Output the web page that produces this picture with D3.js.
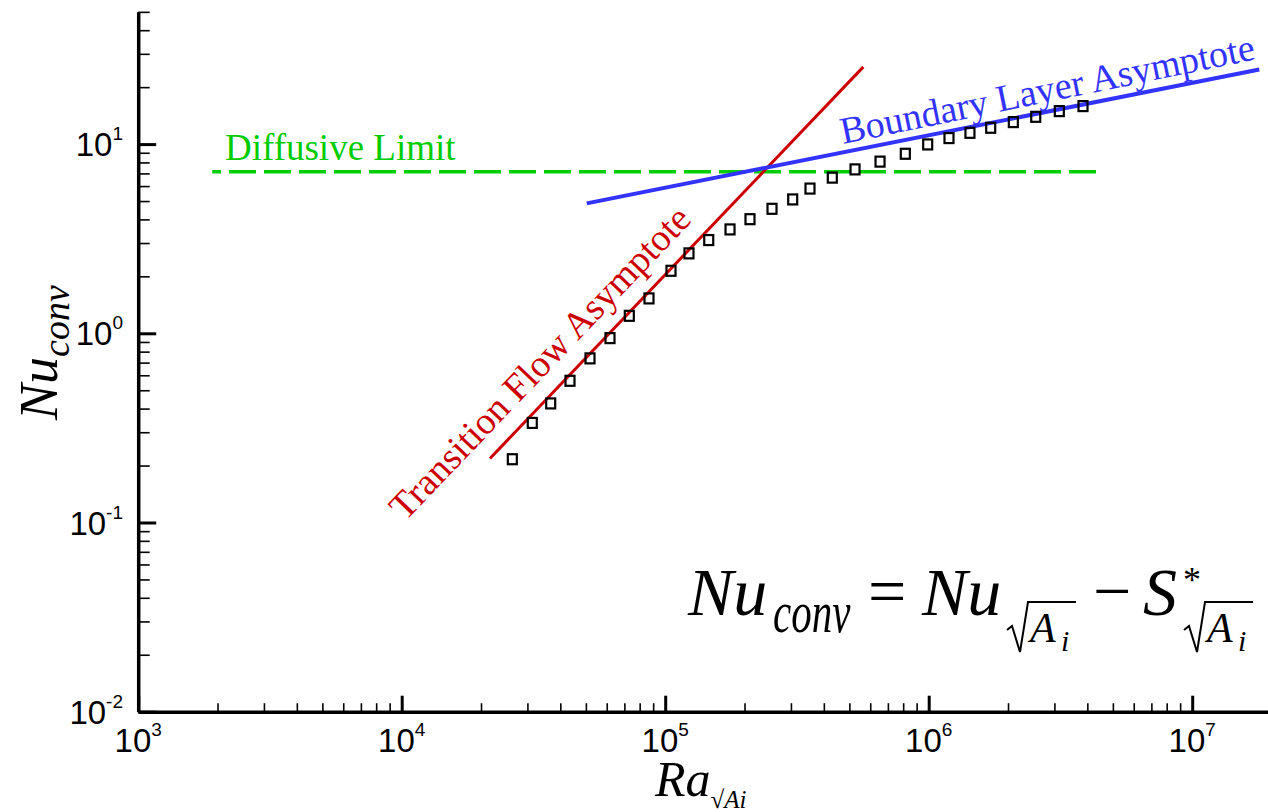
<!DOCTYPE html>
<html>
<head>
<meta charset="utf-8">
<script src="https://cdn.jsdelivr.net/npm/d3@7"></script>
<style>
body { margin: 0; background: #fff; }
svg { display: block; }
</style>
</head>
<body>
<svg width="1268" height="812"></svg>
<script>
// values
var raData = [26290, 31300, 36770, 43520, 51830, 61730, 73080, 86800, 105200, 123100,
              146300, 176200, 209800, 254300, 304700, 354400, 430700, 525300, 653600, 815200,
              991300, 1194000, 1434000, 1719000, 2095000, 2548000, 3131000, 3851000];
var nuData = [0.216, 0.336, 0.426, 0.561, 0.737, 0.943, 1.237, 1.529, 2.14, 2.645,
              3.11, 3.54, 4.01, 4.55, 5.10, 5.82, 6.65, 7.35, 8.08, 8.89,
              9.96, 10.76, 11.47, 12.2, 13.07, 13.94, 14.94, 15.88];

var diffRa = [1910, 4315000], diffNu = [7.14, 7.14];
var transRa = [21630, 564900], transNu = [0.218, 25.6];
var boundRa = [50360, 17970000], boundNu = [4.86, 24.8];

var xMajor = [1e3, 1e4, 1e5, 1e6, 1e7], xExp = ["3", "4", "5", "6", "7"];
var yMajor = [1e-2, 1e-1, 1, 10], yExp = ["-2", "-1", "0", "1"];

var serif = "\"Liberation Serif\", \"Times New Roman\", Times, serif";
var sans = "\"Liberation Sans\", Arial, Helvetica, sans-serif";

var svg = d3.select("svg");

var x = d3.scaleLog().domain([1e3, 2e7]).range([138.2, 138.2 + 263.5 * Math.log10(2e4)]);
var y = d3.scaleLog().domain([1e-2, 50]).range([711.7, 711.7 - 189.2 * Math.log10(5000)]);

function pairs(a, b) { return a.map(function(v, i) { return [v, b[i]]; }); }
var line = d3.line().x(function(d) { return x(d[0]); }).y(function(d) { return y(d[1]); });

// axes, ticks pointing inward
var xMinor = x.ticks().filter(function(v) { return xMajor.indexOf(v) < 0; });
var yMinor = y.ticks().filter(function(v) { return yMajor.indexOf(v) < 0; });

var gx = svg.append("g").attr("transform", "translate(0,711.7)");
gx.append("g").call(d3.axisBottom(x).tickValues(xMinor).tickSize(-8.5).tickSizeOuter(0).tickFormat(""))
  .call(function(g) { g.select(".domain").remove(); g.selectAll("line").attr("stroke-width", 1.6); });
gx.append("g").call(d3.axisBottom(x).tickValues(xMajor).tickSize(-16).tickSizeOuter(0).tickFormat(""))
  .call(function(g) { g.select(".domain").attr("stroke-width", 3.5); g.selectAll("line").attr("stroke-width", 3); });

var gy = svg.append("g").attr("transform", "translate(138.2,0)");
gy.append("g").call(d3.axisLeft(y).tickValues(yMinor).tickSize(-11.5).tickSizeOuter(0).tickFormat(""))
  .call(function(g) { g.select(".domain").remove(); g.selectAll("line").attr("stroke-width", 1.6); });
gy.append("g").call(d3.axisLeft(y).tickValues(yMajor).tickSize(-18).tickSizeOuter(0).tickFormat(""))
  .call(function(g) { g.select(".domain").attr("stroke-width", 3.5); g.selectAll("line").attr("stroke-width", 3); });

// tick labels 10^n
var xl = svg.append("g").selectAll("text").data(xMajor).enter().append("text")
  .style("font-family", sans)
  .attr("x", function(d) { return x(d); }).attr("y", 752)
  .attr("text-anchor", "middle").attr("font-size", 33).attr("fill", "#000");
xl.append("tspan").text("10");
xl.append("tspan").attr("dy", -16).attr("font-size", 19).text(function(d, i) { return xExp[i]; });

var yl = svg.append("g").selectAll("text").data(yMajor).enter().append("text")
  .style("font-family", sans)
  .attr("x", 123).attr("y", function(d) { return y(d) + 12; })
  .attr("text-anchor", "end").attr("font-size", 33).attr("fill", "#000");
yl.append("tspan").text("10");
yl.append("tspan").attr("dy", -16).attr("font-size", 19).text(function(d, i) { return yExp[i]; });

// diffusive limit (drawn from the right end so the dashes line up there)
svg.append("path").datum(pairs(diffRa, diffNu).reverse()).attr("d", line)
  .attr("fill", "none").attr("stroke", "#00cc00").attr("stroke-width", 3.5).attr("stroke-dasharray", "27,8");
svg.append("text").style("font-family", serif).attr("x", 225).attr("y", 160).attr("font-size", 37)
  .attr("fill", "#00cc00").text("Diffusive Limit");

// asymptotes
svg.append("path").datum(pairs(transRa, transNu)).attr("d", line)
  .attr("fill", "none").attr("stroke", "#cc0000").attr("stroke-width", 3);
svg.append("path").datum(pairs(boundRa, boundNu)).attr("d", line)
  .attr("fill", "none").attr("stroke", "#3333ff").attr("stroke-width", 4);

svg.append("text").style("font-family", serif).attr("transform", "translate(405,522) rotate(-46.3)")
  .attr("font-size", 38).attr("fill", "#cc0000")
  .text("Transition Flow Asymptote");
svg.append("text").style("font-family", serif).attr("transform", "translate(843,144) rotate(-11.6)")
  .attr("font-size", 38).attr("fill", "#3333ff")
  .text("Boundary Layer Asymptote");

// data points
svg.append("g").selectAll("rect").data(pairs(raData, nuData)).enter().append("rect")
  .attr("x", function(d) { return x(d[0]) - 4.5; }).attr("y", function(d) { return y(d[1]) - 5; })
  .attr("width", 9).attr("height", 10)
  .attr("fill", "none").attr("stroke", "#000").attr("stroke-width", 2.2);

// axis titles
var xt = svg.append("text").style("font-family", serif).attr("x", 655).attr("y", 796)
  .attr("font-style", "italic").attr("font-size", 50).attr("fill", "#000");
xt.append("tspan").text("Ra");
xt.append("tspan").attr("dy", 12).attr("font-size", 25).attr("font-style", "normal").text("\u221A");
xt.append("tspan").attr("font-size", 25).text("Ai");

var yt = svg.append("text").style("font-family", serif).attr("transform", "translate(57,420) rotate(-90)")
  .attr("font-style", "italic").attr("font-size", 54).attr("fill", "#000");
yt.append("tspan").text("Nu");
yt.append("tspan").attr("dy", 12).attr("font-size", 38).text("conv");

// formula
var fm = svg.append("g").style("font-family", serif).attr("fill", "#000");
fm.append("text").attr("x", 688).attr("y", 615).attr("font-size", 68).attr("font-style", "italic").text("Nu");
fm.append("text").attr("transform", "translate(773,632) scale(1,1.45)").attr("font-size", 41)
  .attr("font-style", "italic").text("conv");
fm.append("text").attr("x", 868).attr("y", 614).attr("font-size", 68).text("=");
fm.append("text").attr("x", 922).attr("y", 615).attr("font-size", 68).attr("font-style", "italic").text("Nu");
fm.append("text").attr("x", 1093).attr("y", 614).attr("font-size", 68).text("\u2212");
fm.append("text").attr("x", 1143).attr("y", 615).attr("font-size", 68).attr("font-style", "italic").text("S");
fm.append("text").attr("x", 1183).attr("y", 592).attr("font-size", 36).text("*");

[1007, 1184].forEach(function(x0) {
  fm.append("path")
    .attr("d", "M" + x0 + ",630 L" + (x0 + 5) + ",626 L" + (x0 + 13) + ",652 L" + (x0 + 21) + ",602 L" + (x0 + 69) + ",602")
    .attr("fill", "none").attr("stroke", "#000").attr("stroke-width", 2);
  fm.append("text").attr("x", x0 + 23).attr("y", 642).attr("font-size", 42).attr("font-style", "italic").text("A");
  fm.append("text").attr("x", x0 + 54).attr("y", 651).attr("font-size", 30).attr("font-style", "italic").text("i");
});
</script>
</body>
</html>
